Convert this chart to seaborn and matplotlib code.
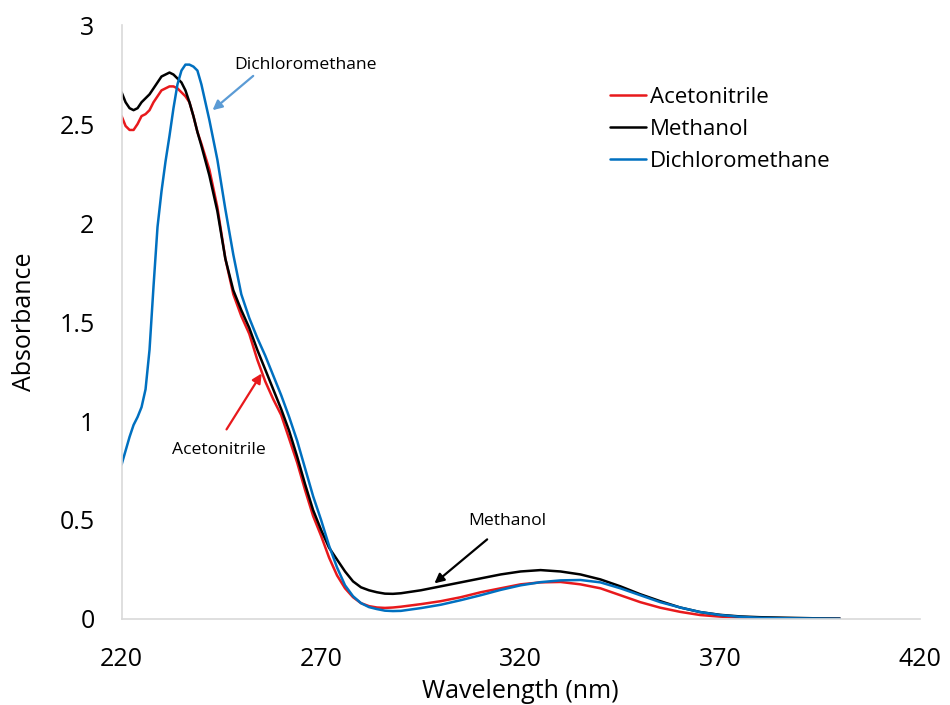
import numpy as np
import pandas as pd
import matplotlib
matplotlib.use("Agg")
import matplotlib.pyplot as plt
import seaborn as sns

wavelength = [220, 221, 222, 223, 224, 225, 226, 227, 228, 229, 230, 231, 232, 233, 234,
              235, 236, 237, 238, 239, 240, 242, 244, 246, 248, 250, 252, 254, 256, 258,
              260, 262, 264, 266, 268, 270, 272, 274, 276, 278, 280, 282, 284, 286, 288,
              290, 295, 300, 305, 310, 315, 320, 325, 330, 335, 340, 345, 350, 355, 360,
              365, 370, 375, 380, 385, 390, 395, 400]

acetonitrile = [2.54, 2.49, 2.47, 2.47, 2.50, 2.54, 2.55, 2.57, 2.61, 2.64, 2.67, 2.68, 2.69, 2.69, 2.68,
                2.66, 2.64, 2.61, 2.54, 2.46, 2.40, 2.27, 2.08, 1.82, 1.64, 1.53, 1.44, 1.31, 1.20, 1.11,
                1.03, 0.91, 0.79, 0.65, 0.52, 0.42, 0.31, 0.22, 0.155, 0.11, 0.08, 0.065, 0.058, 0.056, 0.058,
                0.062, 0.075, 0.09, 0.11, 0.135, 0.155, 0.175, 0.185, 0.187, 0.175, 0.155, 0.12, 0.085, 0.057, 0.036,
                0.02, 0.012, 0.007, 0.004, 0.003, 0.002, 0.001, 0.001]

methanol = [2.66, 2.61, 2.58, 2.57, 2.58, 2.61, 2.63, 2.65, 2.68, 2.71, 2.74, 2.75, 2.76, 2.75, 2.73,
            2.71, 2.67, 2.61, 2.54, 2.46, 2.39, 2.24, 2.06, 1.82, 1.66, 1.56, 1.47, 1.36, 1.26, 1.16,
            1.06, 0.95, 0.82, 0.68, 0.55, 0.45, 0.36, 0.30, 0.24, 0.19, 0.16, 0.145, 0.135, 0.128, 0.127,
            0.13, 0.145, 0.165, 0.185, 0.205, 0.225, 0.24, 0.247, 0.24, 0.225, 0.20, 0.165, 0.125, 0.09, 0.058,
            0.035, 0.021, 0.013, 0.009, 0.007, 0.005, 0.003, 0.002]

dichloromethane = [0.78, 0.85, 0.92, 0.98, 1.02, 1.07, 1.16, 1.36, 1.68, 1.98, 2.16, 2.31, 2.44, 2.58, 2.70,
                   2.77, 2.80, 2.80, 2.79, 2.77, 2.70, 2.52, 2.32, 2.07, 1.84, 1.64, 1.52, 1.42, 1.33, 1.23,
                   1.13, 1.02, 0.90, 0.76, 0.62, 0.50, 0.37, 0.26, 0.17, 0.115, 0.08, 0.06, 0.05, 0.042, 0.04,
                   0.041, 0.055, 0.072, 0.095, 0.12, 0.147, 0.17, 0.186, 0.195, 0.197, 0.185, 0.155, 0.12, 0.085, 0.058,
                   0.035, 0.02, 0.011, 0.006, 0.004, 0.003, 0.002, 0.001]

series_names = ["Acetonitrile", "Methanol", "Dichloromethane"]
colors = ["#E8191C", "#000000", "#0070C0"]
x_ticks = [220, 270, 320, 370, 420]
y_ticks = [0, 0.5, 1, 1.5, 2, 2.5, 3]
y_tick_labels = ["0", "0.5", "1", "1.5", "2", "2.5", "3"]

df = pd.concat([
    pd.DataFrame({"Wavelength": wavelength, "Absorbance": vals, "Solvent": name})
    for name, vals in zip(series_names, [acetonitrile, methanol, dichloromethane])
], ignore_index=True)

sns.set_style("white")
plt.rcParams["font.family"] = ["Open Sans", "DejaVu Sans"]
plt.rcParams["text.color"] = "black"
plt.rcParams["axes.labelcolor"] = "black"
plt.rcParams["xtick.color"] = "black"
plt.rcParams["ytick.color"] = "black"

fig = plt.figure(figsize=(9.5, 7.05), dpi=100)
ax = fig.add_axes([0.128, 0.122, 0.84, 0.8425])

sns.lineplot(data=df, x="Wavelength", y="Absorbance", hue="Solvent",
             hue_order=series_names, palette=colors, linewidth=1.8, ax=ax,
             estimator=None, sort=False)

ax.set_xlim(220, 420)
ax.set_ylim(0, 3)
ax.set_xticks(x_ticks)
ax.set_xticklabels([str(t) for t in x_ticks])
ax.set_yticks(y_ticks)
ax.set_yticklabels(y_tick_labels)
ax.tick_params(axis="both", length=0, labelsize=18, colors="black")
ax.tick_params(axis="x", pad=20)
ax.tick_params(axis="y", pad=19.5)
ax.set_xlabel("Wavelength (nm)", fontsize=18, labelpad=5, color="black")
ax.set_ylabel("Absorbance", fontsize=18, labelpad=16, color="black")

for s in ["top", "right"]:
    ax.spines[s].set_visible(False)
for s in ["left", "bottom"]:
    ax.spines[s].set_color("#D9D9D9")
    ax.spines[s].set_linewidth(1.2)

leg = ax.legend(loc="upper left", bbox_to_anchor=(0.601, 0.911), frameon=False,
                fontsize=16, handlelength=1.6, handletextpad=0.2, labelspacing=0.5,
                borderaxespad=0)
for line in leg.get_lines():
    line.set_linewidth(1.8)
for t in leg.get_texts():
    t.set_color("black")

ann_kw = dict(fontsize=12.6, ha="center", va="center", color="black")
ax.annotate("Dichloromethane", xy=(242.8, 2.57), xytext=(266.1, 2.80),
            arrowprops=dict(arrowstyle="-|>", color="#5B9BD5", lw=1.6, mutation_scale=14,
                            shrinkA=0, shrinkB=0, relpos=(0.16, 0.0)),
            **ann_kw)
ax.annotate("Acetonitrile", xy=(255.1, 1.24), xytext=(244.3, 0.853),
            arrowprops=dict(arrowstyle="-|>", color="#E8191C", lw=1.6, mutation_scale=14,
                            shrinkA=8, shrinkB=0, relpos=(0.5, 1.0)),
            **ann_kw)
ax.annotate("Methanol", xy=(298.4, 0.18), xytext=(316.7, 0.495),
            arrowprops=dict(arrowstyle="-|>", color="black", lw=1.6, mutation_scale=14,
                            shrinkA=8, shrinkB=0, relpos=(0.4, 0.0)),
            **ann_kw)

fig.savefig("out.png", dpi=100)
